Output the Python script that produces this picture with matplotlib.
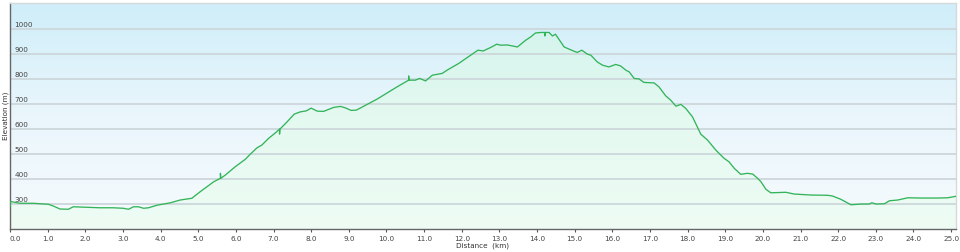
import numpy as np
import matplotlib
matplotlib.use("Agg")
import matplotlib.pyplot as plt
from matplotlib.patches import Polygon
from matplotlib.colors import LinearSegmentedColormap
import matplotlib.transforms as mtransforms

distance_km = [
    0.00, 0.00, 0.05, 0.27, 0.62, 1.02, 1.15, 1.33, 1.55, 1.68, 2.04, 2.39, 2.74, 3.01,
    3.15, 3.28, 3.41, 3.55, 3.68, 3.90, 4.26, 4.52, 4.83, 5.05, 5.41, 5.59, 5.59, 5.60,
    5.72, 5.98, 6.25, 6.38, 6.56, 6.69, 6.87, 7.05, 7.16, 7.16, 7.17, 7.36, 7.55, 7.71,
    7.87, 8.00, 8.16, 8.33, 8.60, 8.78, 8.91, 9.06, 9.20, 9.49, 9.75, 10.02, 10.28,
    10.59, 10.59, 10.60, 10.77, 10.88, 11.04, 11.22, 11.48, 11.61, 11.92, 12.15, 12.43,
    12.57, 12.77, 12.93, 13.03, 13.21, 13.48, 13.70, 13.83, 13.96, 14.10, 14.21, 14.21,
    14.22, 14.32, 14.41, 14.49, 14.72, 14.98, 15.07, 15.19, 15.34, 15.43, 15.60, 15.74,
    15.91, 16.09, 16.22, 16.36, 16.45, 16.58, 16.71, 16.84, 17.11, 17.24, 17.42, 17.55,
    17.69, 17.82, 17.95, 18.13, 18.35, 18.53, 18.75, 18.97, 19.10, 19.24, 19.41, 19.59,
    19.73, 19.86, 19.95, 20.08, 20.21, 20.61, 20.83, 21.28, 21.72, 21.85, 22.07, 22.34,
    22.61, 22.83, 22.89, 23.01, 23.23, 23.36, 23.58, 23.85, 24.20, 24.65, 24.91, 25.13,
]
elevation_m = [
    290, 310, 309, 303, 303, 299, 292, 280, 279, 289, 287, 285, 285, 283,
    279, 289, 289, 283, 285, 295, 305, 316, 323, 349, 389, 403, 423, 403,
    416, 449, 479, 499, 525, 536, 563, 585, 600, 580, 600, 629, 660, 669,
    673, 684, 672, 671, 687, 691, 685, 675, 676, 699, 720, 745, 769,
    796, 813, 796, 796, 803, 793, 816, 823, 836, 863, 887, 916,
    913, 927, 940, 936, 937, 929, 956, 969, 985, 987, 987, 973,
    987, 987, 973, 980, 929, 912, 907, 916, 900, 896, 869, 856,
    849, 859, 853, 836, 829, 803, 801, 787, 785, 769, 733, 716,
    692, 699, 683, 649, 580, 556, 516, 483, 469, 443, 419, 423,
    420, 403, 389, 359, 345, 347, 340, 336, 335, 332, 319, 297,
    300, 300, 305, 300, 301, 313, 316, 325, 324, 324, 325, 331,
]
x_ticks = [float(i) for i in range(0, 26)]
x_tick_labels = [f"{v:.1f}" for v in x_ticks]
y_ticks = [300, 400, 500, 600, 700, 800, 900, 1000]
y_tick_labels = [str(v) for v in y_ticks]

XMIN, XMAX = 0.0, 25.13
YMIN, YMAX = 200, 1105

fig = plt.figure(figsize=(9.6, 2.52), dpi=100)
ax = fig.add_axes([10 / 960, 1 - 229 / 252, 946 / 960, 226 / 252])
ax.set_xlim(XMIN, XMAX)
ax.set_ylim(YMIN, YMAX)

# sky background gradient
sky = LinearSegmentedColormap.from_list("sky", ["#f6fbfe", "#eaf6fc", "#cfeef9"])
grad = np.linspace(0, 1, 256).reshape(-1, 1)
ax.imshow(grad, cmap=sky, origin="lower", aspect="auto",
          extent=[XMIN, XMAX, YMIN, YMAX], zorder=0, interpolation="bicubic")

# green fill under profile
verts = list(zip(distance_km, elevation_m)) + [(distance_km[-1], YMIN), (distance_km[0], YMIN)]
poly = Polygon(verts, closed=True, facecolor="none", edgecolor="none", transform=ax.transData)
ax.add_patch(poly)
green = LinearSegmentedColormap.from_list("grn", ["#eefcf4", "#e4f9f0", "#d0f3ec"])
im = ax.imshow(grad, cmap=green, origin="lower", aspect="auto",
               extent=[XMIN, XMAX, YMIN, YMAX], zorder=0.5, interpolation="bicubic")
im.set_clip_path(poly)

# gridlines
for v in y_ticks:
    ax.axhline(v, color="#cdd7db", lw=1.3, zorder=1)

ax.plot(distance_km, elevation_m, color="#34b45a", lw=0.95, zorder=3)

# y labels inside the plot
trans = mtransforms.blended_transform_factory(ax.transAxes, ax.transData)
for v, lab in zip(y_ticks, y_tick_labels):
    ax.text(0.0045, v + 6, lab, transform=trans, fontsize=5.2, color="#444444",
            ha="left", va="bottom", zorder=4)
ax.set_yticks([])

ax.set_xticks(x_ticks)
ax.set_xticklabels(x_tick_labels, fontsize=5.2, color="#444444")
labels = ax.get_xticklabels()
labels[0].set_horizontalalignment("left")
ax.tick_params(axis="x", length=2.5, width=0.8, color="#555555", pad=2.5)

ax.set_xlabel("Distance  (km)", fontsize=5.2, color="#333333", labelpad=0.5)
ax.set_ylabel("Elevation (m)", fontsize=5.2, color="#333333", labelpad=1)

for s in ["left", "bottom"]:
    ax.spines[s].set_color("#666666")
    ax.spines[s].set_linewidth(1.0)
for s in ["top", "right"]:
    ax.spines[s].set_color("#d5d9db")
    ax.spines[s].set_linewidth(1.0)

fig.savefig("out.png", dpi=100)
